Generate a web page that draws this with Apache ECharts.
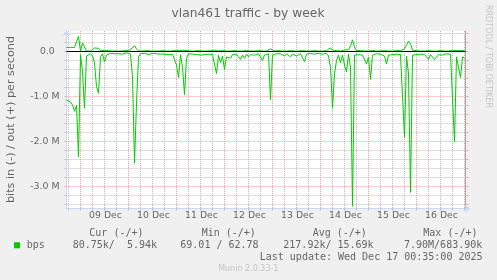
<!DOCTYPE html>
<html><head><meta charset="utf-8">
<script src="https://cdn.jsdelivr.net/npm/echarts@6/dist/echarts.min.js"></script>
<style>html,body{margin:0;padding:0;background:#f0f0f0;}#c{width:497px;height:280px;}</style>
</head><body><div id="c"></div>
<script>
// ---------------- data ----------------
const chartTitle = 'vlan461 traffic - by week';
const yAxisTitle = 'bits in (-) / out (+) per second';
const watermark = 'RRDTOOL / TOBI OETIKER';
// one sample per hour, first sample at hour -7 relative to 09 Dec 00:00 (values in Mbit/s)
const startHour = -7;
const inValues = [
  -1.08, -1.10, -1.12, -1.19, -1.33, -1.20, -2.34, -0.07, -0.45, -1.26,
  -0.10, -0.07, -0.05, -0.10, -0.25, -0.78, -0.93, -0.12, -0.05, -0.23,
  -0.08, -0.05, -0.04, -0.06, -0.05, -0.07, -0.05, -0.04, -0.06, -0.05,
  -0.03, -0.04, -0.06, -0.55, -2.48, -1.15, -0.12, -0.05, -0.06, -0.04,
  -0.05, -0.07, -0.05, -0.04, -0.06, -0.05, -0.04, -0.06, -0.05, -0.06,
  -0.05, -0.07, -0.05, -0.06, -0.08, -0.30, -0.58, -0.07, -0.35, -0.96,
  -0.15, -0.05, -0.07, -0.06, -0.09, -0.07, -0.05, -0.08, -0.06, -0.07,
  -0.09, -0.06, -0.05, -0.07, -0.10, -0.49, -0.08, -0.25, -0.10, -0.40,
  -0.12, -0.08, -0.15, -0.07, -0.10, -0.06, -0.12, -0.18, -0.08, -0.15,
  -0.06, -0.12, -0.07, -0.05, -0.08, -0.06, -0.05, -0.07, -0.20, -0.08,
  -0.06, -0.05, -1.07, -0.08, -0.06, -0.05, -0.04, -0.05, -0.04, -0.10,
  -0.05, -0.08, -0.12, -0.06, -0.05, -0.10, -0.06, -0.05, -0.08, -0.23,
  -0.06, -0.05, -0.04, -0.05, -0.06, -0.05, -0.04, -0.05, -0.06, -0.05,
  -0.04, -0.10, -0.35, -1.26, -0.50, -0.20, -0.08, -0.25, -0.08, -0.30,
  -0.45, -0.06, -0.35, -3.44, -0.08, -0.06, -0.07, -0.05, -0.08, -0.06,
  -0.28, -0.12, -0.62, -0.08, -0.06, -0.05, -0.07, -0.06, -0.05, -0.10,
  -0.28, -0.08, -0.06, -0.07, -0.05, -0.06, -0.05, -0.07, -0.08, -1.91,
  -0.10, -0.50, -3.13, -0.08, -0.06, -0.07, -0.05, -0.06, -0.08, -0.06,
  -0.05, -0.18, -0.07, -0.10, -0.18, -0.20, -0.07, -0.06, -0.08, -0.06,
  -0.05, -0.07, -0.06, -0.10, -2.00, -0.12, -0.08, -0.58, -0.12, -0.15
];
const outValues = [
  0.09, 0.09, 0.09, 0.09, 0.09, 0.09, 0.34, 0.00, 0.19, 0.15,
  0.01, 0.02, 0.01, 0.03, 0.08, 0.09, 0.07, 0.02, 0.01, 0.02,
  0.01, 0.02, 0.01, 0.01, 0.02, 0.01, 0.02, 0.01, 0.01, 0.02,
  0.01, 0.02, 0.03, 0.08, 0.13, 0.06, 0.01, 0.02, 0.01, 0.01,
  0.02, 0.01, 0.01, 0.02, 0.01, 0.02, 0.01, 0.01, 0.02, 0.01,
  0.01, 0.02, 0.01, 0.01, 0.02, 0.03, 0.02, 0.01, 0.03, 0.05,
  0.02, 0.01, 0.01, 0.02, 0.01, 0.01, 0.02, 0.01, 0.01, 0.02,
  0.01, 0.01, 0.02, 0.01, 0.03, 0.02, 0.01, 0.03, 0.02, 0.01,
  0.01, 0.02, 0.01, 0.01, 0.02, 0.01, 0.01, 0.02, 0.01, 0.01,
  0.02, 0.01, 0.01, 0.02, 0.01, 0.01, 0.02, 0.01, 0.01, 0.02,
  0.01, 0.02, 0.06, 0.02, 0.01, 0.01, 0.02, 0.01, 0.01, 0.02,
  0.01, 0.01, 0.02, 0.01, 0.01, 0.02, 0.01, 0.01, 0.02, 0.01,
  0.01, 0.02, 0.01, 0.01, 0.02, 0.01, 0.01, 0.02, 0.01, 0.01,
  0.02, 0.03, 0.08, 0.03, 0.01, 0.02, 0.01, 0.01, 0.02, 0.03,
  0.02, 0.04, 0.12, 0.26, 0.10, 0.02, 0.01, 0.02, 0.01, 0.01,
  0.02, 0.01, 0.01, 0.02, 0.01, 0.01, 0.02, 0.01, 0.01, 0.02,
  0.01, 0.01, 0.02, 0.01, 0.01, 0.02, 0.01, 0.02, 0.03, 0.06,
  0.10, 0.23, 0.17, 0.03, 0.01, 0.02, 0.01, 0.01, 0.02, 0.01,
  0.01, 0.02, 0.01, 0.01, 0.02, 0.01, 0.01, 0.02, 0.01, 0.01,
  0.02, 0.01, 0.01, 0.03, 0.06, 0.02, 0.01, 0.02, 0.01, 0.02
];
const yLabelValues = [0, -1, -2, -3];
const yLabelTexts = ['0.0', '-1.0 M', '-2.0 M', '-3.0 M'];
const yGridValues = [-3.4, -3.2, -3.0, -2.8, -2.6, -2.4, -2.2, -2.0, -1.8, -1.6, -1.4, -1.2,
  -1.0, -0.8, -0.6, -0.4, -0.2, 0.0, 0.2, 0.4];
const xGridHours = [-6, 0, 6, 12, 18, 24, 30, 36, 42, 48, 54, 60, 66, 72, 78, 84, 90, 96,
  102, 108, 114, 120, 126, 132, 138, 144, 150, 156, 162, 168, 174, 180, 186, 192];
const dayLabelHours = [12, 36, 60, 84, 108, 132, 156, 180];
const dayLabels = ['09 Dec', '10 Dec', '11 Dec', '12 Dec', '13 Dec', '14 Dec', '15 Dec', '16 Dec'];
const legendName = 'bps';
const statHeaders = ['Cur (-/+)', 'Min (-/+)', 'Avg (-/+)', 'Max (-/+)'];
const statValues = ['80.75k/  5.94k', '69.01 / 62.78', '217.92k/ 15.69k', '7.90M/683.90k'];
const lastUpdate = 'Last update: Wed Dec 17 00:35:00 2025';
const footer = 'Munin 2.0.33-1';

// ---------------- chart ----------------
const GREEN = '#00cc00', FONT = '#666666', AXIS = '#CFD6F8';
const GRAY = '#bcbcbc', RED = '#ff9a9a';
const SANS = 'DejaVu Sans', MONO = 'DejaVu Sans Mono';
const inData = inValues.map((v, i) => [startHour + i, v]);
const outData = outValues.map((v, i) => [startHour + i, v]);

const headerX = [89.3, 201.7, 312.7, 423.3];
const valueX = [72.7, 180.3, 283.3, 404];
const graphics = [
  {type: 'text', x: 248, y: 14, style: {text: chartTitle, fill: FONT, font: '12.3px "' + SANS + '"', textAlign: 'center', textVerticalAlign: 'middle'}},
  {type: 'text', x: 11, y: 119.5, rotation: Math.PI / 2, style: {text: yAxisTitle, fill: FONT, font: '11.2px "' + SANS + '"', textAlign: 'center', textVerticalAlign: 'middle'}},
  {type: 'text', x: 488.5, y: 56.5, rotation: -Math.PI / 2, style: {text: watermark, fill: '#c4c4c4', font: '8px "' + SANS + '"', textAlign: 'center', textVerticalAlign: 'middle'}},
  {type: 'rect', shape: {x: 14, y: 242.3, width: 6, height: 6}, style: {fill: GREEN}},
  {type: 'text', x: 26.7, y: 245.5, style: {text: legendName, fill: FONT, font: '10px "' + MONO + '"', textVerticalAlign: 'middle'}},
  {type: 'text', x: 482.5, y: 257.5, style: {text: lastUpdate, fill: FONT, font: '10px "' + MONO + '"', textAlign: 'right', textVerticalAlign: 'middle'}},
  {type: 'text', x: 248.3, y: 268.8, style: {text: footer, fill: '#c4c4c4', font: '8px "' + SANS + '"', textAlign: 'center', textVerticalAlign: 'middle'}}
];
statHeaders.forEach((t, i) => graphics.push({type: 'text', x: headerX[i], y: 233.5,
  style: {text: t, fill: FONT, font: '10px "' + MONO + '"', textVerticalAlign: 'middle'}}));
statValues.forEach((t, i) => graphics.push({type: 'text', x: valueX[i], y: 245.5,
  style: {text: t, fill: FONT, font: '10px "' + MONO + '"', textVerticalAlign: 'middle'}}));

const chart = echarts.init(document.getElementById('c'), null, {renderer: 'canvas'});
chart.setOption({
  animation: false,
  backgroundColor: '#f0f0f0',
  grid: {left: 66.5, right: 31.5, top: 31, bottom: 71.5, show: true, backgroundColor: '#ffffff',
    borderWidth: 0, containLabel: false, outerBoundsMode: 'none'},
  xAxis: [{
    type: 'value', min: -7, max: 192.5,
    axisLine: {show: true, onZero: false, lineStyle: {color: AXIS, width: 1},
      symbol: ['none', 'arrow'], symbolSize: [6, 6], symbolOffset: [0, 5]},
    axisTick: {show: true, customValues: xGridHours, length: 2, lineStyle: {color: GRAY}},
    axisLabel: {customValues: dayLabelHours, formatter: v => dayLabels[dayLabelHours.indexOf(v)],
      color: FONT, fontFamily: SANS, fontSize: 9.35, margin: 3, padding: [0, 0, 0, 2]},
    splitLine: {show: true, lineStyle: {color: [GRAY, RED, GRAY, GRAY], width: 1, type: [1, 1]}}
  }],
  yAxis: [{
    type: 'value', min: -3.4889, max: 0.4556,
    axisLine: {show: true, onZero: false, lineStyle: {color: AXIS, width: 1},
      symbol: ['none', 'arrow'], symbolSize: [6, 6], symbolOffset: [0, 1]},
    axisTick: {show: true, customValues: yGridValues, length: 2, lineStyle: {color: GRAY}},
    axisLabel: {customValues: yLabelValues, margin: 7, color: FONT, fontFamily: SANS, fontSize: 9.35,
      formatter: v => { const t = yLabelTexts[yLabelValues.indexOf(v)]; return v === 0 ? '{z|' + t + '}' : t; },
      rich: {z: {padding: [0, 4.7, 0, 0], color: FONT, fontFamily: SANS, fontSize: 9.35}}},
    splitLine: {show: true, lineStyle: {color: [GRAY, GRAY, RED, GRAY, GRAY], width: 1, type: [1, 1]}}
  }, {
    type: 'value', position: 'right', min: -3.4889, max: 0.4556,
    axisLine: {show: true, onZero: false, lineStyle: {color: '#a8a8a8', width: 1}},
    axisTick: {show: true, customValues: yGridValues, length: 3, lineStyle: {color: GRAY}},
    axisLabel: {show: false}, splitLine: {show: false}
  }],
  series: [{
    type: 'line', name: 'in', data: inData, symbol: 'none', showSymbol: false, z: 2,
    lineStyle: {color: GREEN, width: 1}, itemStyle: {color: GREEN}
  }, {
    type: 'line', name: 'out', data: outData, symbol: 'none', showSymbol: false, z: 3,
    lineStyle: {color: GREEN, width: 1}, itemStyle: {color: GREEN},
    markLine: {silent: true, symbol: 'none', label: {show: false}, animation: false,
      lineStyle: {color: '#000000', width: 1, type: 'solid'}, data: [{yAxis: 0}]}
  }],
  graphic: graphics
});
</script></body></html>
